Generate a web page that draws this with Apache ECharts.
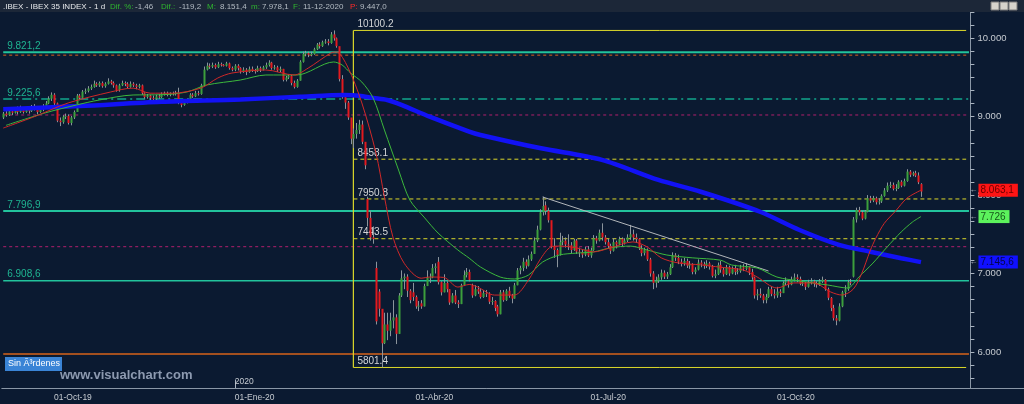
<!DOCTYPE html>
<html><head><meta charset="utf-8">
<script src="https://cdn.jsdelivr.net/npm/echarts@6/dist/echarts.min.js"></script>
<style>html,body{margin:0;padding:0;background:#0b1a31;}#c{width:1024px;height:404px;}</style>
</head><body><div id="c"></div>
<script>
// ---------- DATA ----------
const startDate = '2019-09-05';
const holidays = ['2019-12-25','2019-12-26','2020-01-01','2020-04-10','2020-04-13','2020-05-01','2020-12-25','2021-01-01'];
const futureDays = 17;
// one row per trading day: [open, close, low, high]
const candles = [
// Sep 2019
[8990,9040,8970,9060],[9040,9020,9000,9070],[9020,9070,9010,9090],[9070,9050,9020,9090],[9050,9090,9040,9110],
[9090,9060,9030,9130],[9060,9110,9050,9140],[9110,9060,9040,9120],[9060,9090,9050,9110],[9090,9070,9040,9110],
[9070,9120,9060,9150],[9120,9110,9080,9160],[9110,9060,9030,9120],[9060,9100,9050,9130],[9100,9130,9070,9160],
[9130,9170,9110,9200],[9170,9230,9160,9260],[9230,9280,9200,9310],
// Oct 2019
[9280,9170,9150,9300],[9170,8950,8930,9180],[8950,8930,8880,8990],[8930,9000,8910,9020],[9000,9010,8970,9040],
[9010,8920,8900,9030],[8920,8990,8890,9010],[8990,9060,8970,9080],[9060,9270,9060,9290],[9270,9240,9210,9290],
[9240,9320,9230,9340],[9320,9330,9290,9360],[9330,9360,9310,9390],[9360,9380,9340,9410],[9380,9420,9370,9460],
[9420,9400,9380,9440],[9400,9430,9380,9450],[9430,9390,9370,9450],[9390,9420,9370,9440],[9420,9450,9410,9490],
[9450,9430,9410,9470],[9430,9400,9370,9450],[9400,9340,9320,9410],
// Nov 2019
[9340,9400,9320,9420],[9400,9430,9390,9460],[9430,9420,9390,9450],[9420,9380,9360,9440],[9380,9420,9370,9450],
[9420,9400,9380,9440],[9400,9380,9350,9420],[9380,9400,9360,9420],[9400,9300,9280,9410],[9300,9250,9230,9310],
[9250,9270,9230,9290],[9270,9240,9210,9280],[9240,9230,9200,9270],[9230,9260,9210,9280],[9260,9250,9230,9290],
[9250,9290,9240,9310],[9290,9300,9270,9320],[9300,9280,9260,9320],[9280,9300,9260,9310],[9300,9290,9270,9320],
[9290,9300,9270,9330],
// Dec 2019
[9300,9180,9160,9370],[9180,9150,9120,9200],[9150,9190,9140,9210],[9190,9200,9170,9230],[9200,9280,9190,9300],
[9280,9260,9240,9300],[9260,9300,9250,9330],[9300,9290,9270,9330],[9290,9400,9280,9420],[9400,9600,9390,9640],
[9600,9650,9590,9690],[9650,9640,9610,9680],[9640,9660,9620,9690],[9660,9630,9610,9680],[9630,9670,9620,9700],
[9670,9660,9640,9690],[9660,9650,9640,9670],[9650,9680,9640,9700],[9680,9620,9600,9690],[9620,9600,9580,9640],
// Jan 2020
[9600,9650,9580,9670],[9650,9620,9590,9670],[9620,9580,9550,9630],[9580,9600,9560,9630],[9600,9570,9530,9620],
[9570,9610,9560,9640],[9610,9590,9570,9640],[9590,9580,9550,9610],[9580,9620,9570,9650],[9620,9600,9570,9640],
[9600,9630,9590,9650],[9630,9660,9610,9690],[9660,9690,9640,9720],[9690,9620,9600,9700],[9620,9630,9600,9660],
[9630,9590,9570,9650],[9590,9610,9570,9640],[9610,9470,9450,9610],[9470,9500,9450,9520],[9500,9520,9480,9540],
[9520,9430,9400,9530],[9430,9380,9360,9460],
// Feb 2020
[9380,9460,9370,9480],[9460,9700,9460,9720],[9700,9800,9690,9830],[9800,9810,9770,9840],[9810,9790,9760,9830],
[9790,9800,9770,9830],[9800,9860,9790,9880],[9860,9920,9850,9940],[9920,9900,9870,9950],[9900,9950,9890,9970],
[9950,9960,9930,9990],[9960,9940,9910,9990],[9940,10050,9930,10080],[10050,10000,9970,10100.2],[10000,9900,9880,10010],
[9900,9480,9450,9700],[9480,9250,9230,9530],[9250,9180,9100,9300],[9180,8990,8960,9200],[8990,8720,8650,8900],
// Mar 2020
[8720,8780,8600,8850],[8780,8830,8720,8920],[8830,8900,8780,8960],[8900,8680,8650,8950],[8680,8380,8330,8600],
[7950,7710,7600,7980],[7710,7460,7420,7800],[7460,7440,7380,7600],[7070,6390,6350,7150],[6770,6550,6450,6800],
[6550,6110,5801.4,6400],[6110,6350,6100,6500],[6350,6270,6150,6500],[6270,6400,6200,6500],[6400,6440,6300,6660],
[6440,6230,6100,6480],[6230,6720,6230,6750],[6720,6940,6700,7040],[6940,6960,6800,7000],[6960,6780,6700,6990],
[6780,6660,6620,6800],[6760,6700,6650,6880],
// Apr 2020
[6700,6580,6550,6720],[6580,6590,6520,6650],[6620,6580,6550,6660],[6580,6840,6580,6870],[6840,6950,6840,7040],
[6950,6950,6880,7000],[6950,7070,6940,7120],[7070,7090,7000,7130],[7150,6890,6860,7210],[6890,6760,6720,6900],
[6760,6880,6760,6990],[6880,6800,6760,6900],[6800,6630,6600,6800],[6630,6720,6620,6750],[6720,6630,6610,6790],
[6630,6610,6560,6660],[6610,6850,6610,6870],[6850,6980,6840,7040],[6980,7020,6950,7070],[7020,6920,6900,7050],
// May 2020
[6850,6720,6690,6870],[6720,6800,6710,6850],[6800,6770,6740,6840],[6770,6700,6680,6800],[6700,6750,6690,6790],
[6750,6740,6700,6790],[6740,6640,6610,6760],[6640,6650,6600,6700],[6650,6560,6520,6660],[6580,6480,6450,6600],
[6480,6760,6480,6790],[6760,6660,6640,6790],[6660,6780,6650,6800],[6780,6720,6690,6830],[6720,6680,6620,6740],
[6680,6850,6680,6880],[6850,7040,6850,7070],[7040,7070,6990,7100],[7070,7150,7030,7200],[7150,7100,7060,7180],
// Jun 2020
[7100,7180,7090,7230],[7180,7250,7160,7280],[7250,7420,7250,7460],[7420,7560,7400,7610],[7560,7780,7550,7820],
[7780,7860,7740,7980],[7870,7800,7750,7920],[7800,7680,7650,7840],[7680,7350,7320,7600],[7350,7300,7200,7450],
[7300,7240,7080,7320],[7240,7400,7230,7520],[7400,7420,7360,7480],[7420,7370,7330,7460],[7370,7360,7300,7500],
[7360,7300,7260,7400],[7300,7420,7290,7440],[7420,7280,7250,7440],[7280,7270,7210,7330],[7270,7240,7200,7310],
[7240,7310,7220,7340],[7310,7230,7210,7350],
// Jul 2020
[7230,7300,7200,7330],[7300,7450,7290,7490],[7450,7420,7380,7480],[7420,7520,7410,7560],[7520,7460,7420,7640],
[7460,7400,7370,7490],[7400,7350,7320,7440],[7350,7290,7250,7380],[7290,7400,7280,7450],[7400,7370,7320,7420],
[7370,7440,7360,7470],[7440,7390,7350,7460],[7390,7420,7370,7450],[7420,7460,7400,7500],[7460,7500,7430,7620],
[7500,7460,7420,7560],[7460,7440,7390,7510],[7440,7320,7300,7450],[7320,7260,7220,7360],[7260,7300,7230,7330],
[7300,7180,7160,7320],[7180,7000,6960,7200],[7000,6880,6800,7030],
// Aug 2020
[6880,6910,6820,6960],[6910,6950,6880,6990],[6950,7010,6920,7050],[7010,6960,6930,7040],[6960,6990,6930,7020],
[6990,7080,6980,7120],[7080,7230,7070,7270],[7230,7200,7160,7260],[7200,7150,7120,7240],[7150,7130,7090,7190],
[7130,7160,7100,7200],[7160,7100,7070,7190],[7100,7120,7060,7160],[7120,7020,6990,7130],[7020,7050,6990,7080],
[7050,7140,7040,7180],[7140,7120,7080,7170],[7120,7100,7060,7150],[7100,7130,7070,7170],[7130,7090,7050,7150],
[7090,6970,6950,7110],
// Sep 2020
[6970,6990,6940,7050],[6990,7110,6980,7140],[7110,7050,7010,7160],[7050,6990,6960,7080],[6990,7080,6980,7110],
[7080,7000,6970,7100],[7000,7060,6990,7090],[7060,7020,6980,7110],[7020,7030,6990,7070],[7030,7080,7010,7110],
[7080,7060,7030,7120],[7060,7080,7040,7130],[7080,7020,6980,7090],[7020,6950,6920,7060],[6950,6720,6680,6960],
[6720,6740,6660,6800],[6740,6720,6690,6810],[6720,6660,6620,6740],[6660,6700,6620,6740],[6700,6800,6690,6830],
[6800,6740,6710,6830],[6740,6720,6680,6800],
// Oct 2020
[6720,6770,6690,6830],[6770,6750,6700,6800],[6750,6880,6750,6900],[6880,6900,6850,6950],[6900,6860,6820,6920],
[6860,6920,6850,6960],[6920,6950,6900,7000],[6950,6930,6890,6990],[6930,6870,6850,6960],[6870,6880,6840,6910],
[6880,6830,6790,6890],[6830,6880,6820,6920],[6880,6900,6860,6940],[6900,6870,6830,6920],[6870,6860,6820,6900],
[6860,6900,6840,6930],[6900,6920,6880,6960],[6920,6800,6780,6930],[6800,6690,6660,6820],[6690,6560,6520,6700],
[6560,6430,6400,6600],[6430,6400,6340,6470],
// Nov 2020
[6400,6580,6390,6620],[6580,6760,6570,6780],[6760,6800,6700,6850],[6800,6890,6780,6920],[6890,6880,6850,6930],
[6960,7690,6950,7720],[7690,7810,7650,7840],[7810,7780,7740,7850],[7780,7700,7680,7800],[7700,7790,7690,7810],
[7790,7960,7780,8000],[7960,7930,7900,7990],[7930,7960,7910,7990],[7960,7910,7880,7980],[7910,7920,7880,7960],
[7920,7990,7900,8010],[7990,8060,7980,8090],[8060,8120,8040,8160],[8120,8130,8090,8170],[8130,8080,8060,8160],
[8080,8090,8050,8140],
// Dec 2020
[8090,8170,8080,8190],[8170,8120,8100,8190],[8120,8180,8110,8210],[8180,8300,8170,8330],[8300,8260,8230,8320],
[8260,8280,8240,8300],[8280,8250,8230,8310],[8250,8164,8140,8290],[8140,8045,7978.1,8151.4]
];
// moving averages: [trading-day index, value]
const maFast = [[0,8855],[11,9000],[23,9175],[38,9315],[46,9365],[52,9300],[60,9300],[70,9365],[76,9494],[81,9557],
 [93,9596],[103,9532],[108,9620],[116,9812],[118,9825],[122,9634],[127,9175],[132,8537],[135,7977],[138,7466],
 [142,7130],[148,6940],[151,6955],[156,6950],[161,6827],[165,6860],[168,6827],[174,6725],[181,6725],[186,6916],
 [190,7171],[194,7340],[197,7350],[203,7327],[209,7275],[215,7327],[223,7403],[228,7340],[233,7200],[239,7135],
 [247,7110],[254,7080],[262,7045],[267,6955],[274,6815],[280,6880],[287,6880],[293,6765],[297,6725],[301,6800],
 [304,7000],[307,7290],[309,7450],[312,7640],[316,7797],[320,7960],[325,8063.1]];
const maMid = [[1,8890],[15,9050],[26,9150],[34,9213],[46,9277],[56,9280],[65,9315],[72,9404],[84,9468],[93,9532],
 [104,9532],[117,9698],[120,9660],[123,9557],[127,9442],[131,9238],[135,8830],[140,8320],[144,7937],[149,7720],
 [154,7516],[161,7300],[165,7196],[169,7083],[176,6955],[181,6930],[186,6980],[191,7146],[197,7236],[203,7260],
 [209,7275],[215,7327],[222,7350],[228,7300],[235,7236],[244,7200],[254,7170],[258,7108],[267,7070],[274,6955],
 [282,6904],[292,6853],[299,6815],[303,6955],[308,7133],[313,7338],[318,7530],[322,7657],[325,7726]];
const maSlow = [[0,9095],[27,9135],[56,9190],[84,9220],[105,9255],[121,9277],[126,9268],[131,9240],[136,9213],
 [141,9150],[151,9000],[165,8810],[169,8767],[190,8600],[212,8450],[232,8193],[247,8043],[268,7788],[282,7555],
 [296,7365],[307,7278],[318,7195],[325,7145.6]];
const trendLine = [[191,7976],[271,7032]];
const supportLevels = [9821.2, 7796.9, 6908.6];
const pivotLevel = 9225.6;
const orangeLevel = 9785;
const magentaLevels = [9022, 7342];
const brownLevel = 5973;
const fibHigh = 10100.2, fibLow = 5801.4;
const fibLevels = [8458.1, 7950.8, 7443.5];
const fibStart = 124, fibEnd = 341;
const axisLabelDates = {'2019-10-01':'01-Oct-19','2020-01-02':'01-Ene-20','2020-04-01':'01-Abr-20','2020-07-01':'01-Jul-20','2020-10-01':'01-Oct-20'};
const yearLabelDate = '2020-01-02';
const priceTicks = [6000,7000,8000,9000,10000];

// ---------- HELPERS ----------
function buildDates(start, count, hol){
  const out=[]; const d=new Date(start+'T00:00:00Z');
  while(out.length<count){const wd=d.getUTCDay();const s=d.toISOString().slice(0,10);
    if(wd!==0&&wd!==6&&!hol.includes(s)) out.push(s); d.setUTCDate(d.getUTCDate()+1);}
  return out;
}
function fmt(v){const dec=Math.abs(v%1)>1e-9;let s=Math.abs(v).toFixed(dec?1:0);let [ip,dp]=s.split('.');
  ip=ip.replace(/\B(?=(\d{3})+(?!\d))/g,'.');return (v<0?'-':'')+ip+(dp?','+dp:'');}
const dates = buildDates(startDate, candles.length+futureDays, holidays);
const labelIdx = dates.length-1;
const minorTicks=[]; for(let k=34;k<=62;k++) minorTicks.push(k*1000/6);
const FONT = "'Liberation Sans',Arial,sans-serif";
const YELLOW = '#dcd82a';

function renderCandle(params, api){
  const i=api.value(0),o=api.value(1),c=api.value(2),l=api.value(3),h=api.value(4);
  const pO=api.coord([i,o]),pC=api.coord([i,c]),pL=api.coord([i,l]),pH=api.coord([i,h]);
  const x=Math.round(pO[0]);
  const top=Math.min(pO[1],pC[1]),bot=Math.max(pO[1],pC[1]);
  return {type:'group',children:[
    {type:'line',shape:{x1:x+0.5,y1:pH[1],x2:x+0.5,y2:pL[1]},style:{stroke:'#8b949c',lineWidth:1}},
    {type:'rect',shape:{x:x-0.5,y:top,width:2,height:Math.max(1,bot-top)},style:{fill:c>=o?'#3c9f3c':'#e3191e'}}
  ]};
}
// a horizontal level drawn as a 2-point line series; optional label above its left end
function level(p0, p1, color, type, width, label, labelColor){
  const first = {value:p0};
  if(label) first.label={show:true,formatter:label,position:'top',align:'left',offset:[4,1],distance:2,
    color:labelColor,fontSize:10,fontFamily:FONT};
  return {type:'line',data:[first,{value:p1}],symbol:'circle',symbolSize:0,showSymbol:true,z:1,silent:true,
    lineStyle:{color,type,width},itemStyle:{color},label:{show:false},emphasis:{disabled:true}};
}
const H = (v,color,type,width,label) => level([0,v],[labelIdx,v],color,type,width,label,'#1fb592');
const F = (v,type,label) => level([fibStart,v],[fibEnd,v],YELLOW,type,1,label,'#d4d6d8');
const priceTag=(v,bg,fg)=>({symbol:'rect',symbolSize:1,itemStyle:{color:'rgba(0,0,0,0)'},silent:true,
  data:[{coord:[labelIdx,v]}],
  label:{show:true,position:'right',distance:0,formatter:'{a|←}{b|'+fmt(v)+'}',
    rich:{a:{color:'#c8ccd2',fontSize:8,padding:[0,1,0,0]},b:{backgroundColor:bg,color:fg,fontSize:10,fontFamily:FONT,padding:[2,4,1,2]}}}});

const chart = echarts.init(document.getElementById('c'));
const header = [['.IBEX - IBEX 35 INDEX -',3,'#e6e8ea'],['1 d',94,'#e6e8ea'],['Dif. %:',110,'#2fb52f'],['-1,46',135,'#b4bcc4'],
 ['Dif.:',161,'#2fb52f'],['-119,2',179,'#b4bcc4'],['M:',207,'#2fb52f'],['8.151,4',220,'#b4bcc4'],['m:',251,'#2fb52f'],
 ['7.978,1',262,'#b4bcc4'],['F:',293,'#2fb52f'],['11-12-2020',303,'#b4bcc4'],['P:',350,'#ff2a2a'],['9.447,0',360,'#b4bcc4']];

chart.setOption({
  animation:false,
  backgroundColor:'#0b1a31',
  grid:{left:1.8,right:53.6,top:12,bottom:16},
  xAxis:[{type:'category',data:dates,boundaryGap:true,
      axisLine:{lineStyle:{color:'#8a97a6'}},
      axisTick:{alignWithLabel:true,length:8,lineStyle:{color:'#aab4c0'},interval:(i,v)=>!!axisLabelDates[v]||i===fibEnd},
      axisLabel:{interval:(i,v)=>!!axisLabelDates[v],formatter:v=>axisLabelDates[v]||'',align:'left',margin:5,
        color:'#c6cbd1',fontSize:8.5,fontFamily:FONT},splitLine:{show:false}},
    {type:'category',data:dates,position:'bottom',boundaryGap:true,axisLine:{show:false},
      axisTick:{show:true,inside:true,alignWithLabel:true,length:8,lineStyle:{color:'#aab4c0'},interval:(i,v)=>v===yearLabelDate},
      axisLabel:{inside:true,interval:(i,v)=>v===yearLabelDate,formatter:v=>v===yearLabelDate?v.slice(0,4):'',align:'left',margin:2,
        color:'#c6cbd1',fontSize:8.5,fontFamily:FONT},splitLine:{show:false}}],
  yAxis:{type:'value',position:'right',min:5539.6,max:10335.5,scale:true,
    axisLine:{show:true,lineStyle:{color:'#8a97a6'}},
    axisTick:{show:true,length:4,lineStyle:{color:'#aab4c0'},customValues:minorTicks},
    axisLabel:{customValues:priceTicks,formatter:v=>fmt(v),color:'#c6cbd1',fontSize:9.5,margin:7,fontFamily:FONT},
    splitLine:{show:false}},
  series:[
    H(orangeLevel,'#d5601e',[3,3],1,null),
    ...supportLevels.map((v,k)=>H(v,'#22c39c','solid',k===2?1.5:2,fmt(v))),
    H(pivotLevel,'#12a78c',[9,4,2,4],1.5,fmt(pivotLevel)),
    ...magentaLevels.map(v=>H(v,'#b01f6c',[3,3],1,null)),
    H(brownLevel,'#a3501f','solid',2,null),
    ...fibLevels.map(v=>F(v,[4,3],v.toFixed(1))),
    F(fibHigh,'solid',fibHigh.toFixed(1)),
    F(fibLow,'solid',fibLow.toFixed(1)),
    level([fibStart,fibHigh],[fibStart,fibLow],YELLOW,'solid',1.2,null),
    {type:'line',name:'trend',data:trendLine,symbol:'none',z:3,lineStyle:{color:'#b2b6ba',width:1},silent:true},
    {type:'custom',name:'IBEX',renderItem:renderCandle,z:2,
      data:candles.map((r,i)=>[i,r[0],r[1],r[2],r[3]]),encode:{x:0,y:[1,2,3,4]}},
    {type:'line',name:'ma200',data:maSlow,symbol:'none',smooth:0.3,z:4,lineStyle:{color:'#1212f5',width:4.5},
      markPoint:priceTag(maSlow[maSlow.length-1][1],'#1010ff','#06064a')},
    {type:'line',name:'ma50',data:maMid,symbol:'none',smooth:0.3,z:5,lineStyle:{color:'#3cb83c',width:1},
      markPoint:priceTag(maMid[maMid.length-1][1],'#5cf25c','#15571a')},
    {type:'line',name:'ma20',data:maFast,symbol:'none',smooth:0.3,z:5,lineStyle:{color:'#d02828',width:1},
      markPoint:priceTag(maFast[maFast.length-1][1],'#ff1414','#6a0000')}
  ],
  graphic:[
    {type:'rect',left:0,top:0,shape:{width:1024,height:12},style:{fill:'#1c2738'},z:10},
    ...header.map(h=>({type:'text',x:h[1],y:7,style:{text:h[0],fill:h[2],font:'8px '+FONT,verticalAlign:'middle'},z:11})),
    {type:'rect',shape:{x:991,y:2,width:8,height:8},style:{fill:'#d6d3cc',stroke:'#7a7a7a'},z:11},
    {type:'rect',shape:{x:1000,y:2,width:8,height:8},style:{fill:'#d6d3cc',stroke:'#7a7a7a'},z:11},
    {type:'rect',shape:{x:1009,y:2,width:8,height:8},style:{fill:'#d6d3cc',stroke:'#7a7a7a'},z:11},
    {type:'line',shape:{x1:970,y1:388.5,x2:1024,y2:388.5},style:{stroke:'#8a97a6',lineWidth:1},z:11},
    {type:'rect',shape:{x:5,y:357,width:57,height:14},style:{fill:'#3a84d6'},z:11},
    {type:'text',x:8,y:364,style:{text:'Sin Ã³rdenes',fill:'#ffffff',font:'9px '+FONT,verticalAlign:'middle'},z:12},
    {type:'text',x:60,y:375,style:{text:'www.visualchart.com',fill:'#8d9ab0',font:'bold 13px '+FONT,verticalAlign:'middle'},z:11}
  ]
});
</script></body></html>
